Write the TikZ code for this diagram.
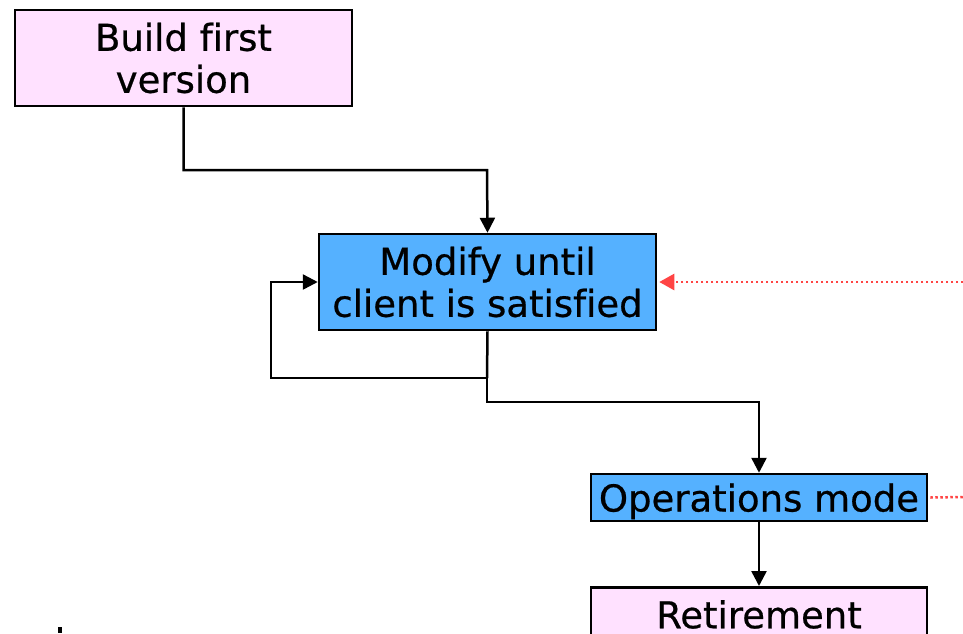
\documentclass[tikz,border=0pt]{standalone}
\usepackage{fontspec}
\setmainfont[Ligatures=NoCommon,FakeBold=0.6]{DejaVu Sans}
\usetikzlibrary{arrows.meta}
\definecolor{pinkbox}{HTML}{FFE1FF}
\definecolor{bluebox}{HTML}{55B1FF}
\definecolor{redline}{HTML}{FF4444}
\tikzset{
  box/.style={draw=black, line width=2.5pt, align=center, inner sep=0pt,
    font=\fontsize{37}{42}\selectfont},
  pinkstep/.style={box, fill=pinkbox},
  bluestep/.style={box, fill=bluebox},
  flow/.style={draw=black, line width=2.5pt, -{Triangle[length=15pt,width=15pt]}},
  plainflow/.style={draw=black, line width=2.5pt},
  reddots/.style={draw=redline, line width=2.5pt, dash pattern=on 2.5pt off 2.5pt},
}
\begin{document}
\begin{tikzpicture}[x=1pt,y=-1pt]
\useasboundingbox (0,0) rectangle (963,633);
\node[pinkstep, minimum width=337pt, minimum height=96pt] (build) at (183.5,58) {Build first\\version};
\node[bluestep, minimum width=337pt, minimum height=96pt] (modify) at (487.5,282) {Modify until\\client is satisfied};
\node[bluestep, minimum width=336pt, minimum height=47pt, text height=28pt, text depth=0pt] (ops) at (759,497.5) {Operations mode};
\node[pinkstep, anchor=north, minimum width=336pt, text height=41pt, text depth=55pt] (ret) at (759,586) {Retirement};
\coordinate (split) at (487,378);
\coordinate (redin) at (963,282);
\coordinate (redout) at (963,497);
\draw[flow] (build.south) |- (487,170) -- (modify.north);
\draw[plainflow] (modify.south) -- (split);
\draw[flow] (split) -| (271,282) -- (modify.west);
\draw[flow] (split) |- (759,402) -- (ops.north);
\draw[flow] (ops.south) -- (ret.north);
\draw[reddots, -{Triangle[length=15pt,width=16pt]}] (redin) -- ([xshift=2pt]modify.east);
\draw[reddots] ([xshift=2pt]ops.east) -- (redout);
\fill[black] (58,627) rectangle (62,633);
\end{tikzpicture}
\end{document}
